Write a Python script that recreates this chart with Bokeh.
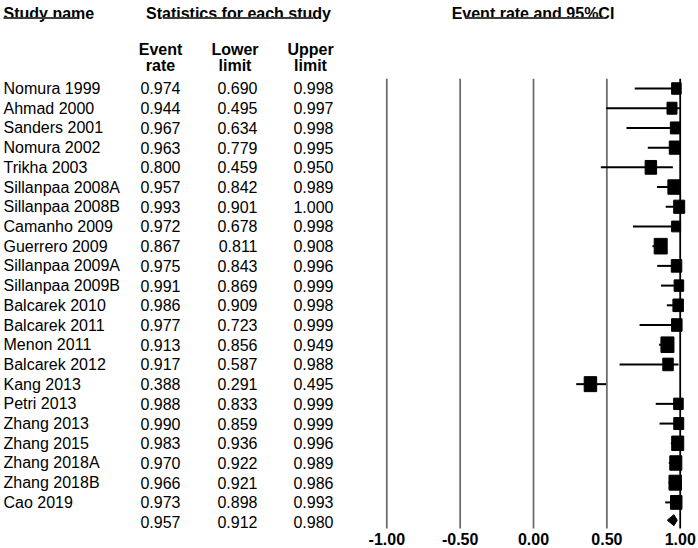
import math
from bokeh.plotting import figure
from bokeh.models import Range1d, ColumnDataSource
from bokeh.core.properties import value
from bokeh.embed import file_html
from bokeh.resources import INLINE

# ---------------- data ----------------
studies = ["Nomura 1999", "Ahmad 2000", "Sanders 2001", "Nomura 2002", "Trikha 2003",
           "Sillanpaa 2008A", "Sillanpaa 2008B", "Camanho 2009", "Guerrero 2009",
           "Sillanpaa 2009A", "Sillanpaa 2009B", "Balcarek 2010", "Balcarek 2011",
           "Menon 2011", "Balcarek 2012", "Kang 2013", "Petri 2013", "Zhang 2013",
           "Zhang 2015", "Zhang 2018A", "Zhang 2018B", "Cao 2019"]
event_rate = [0.974, 0.944, 0.967, 0.963, 0.800, 0.957, 0.993, 0.972, 0.867, 0.975, 0.991,
              0.986, 0.977, 0.913, 0.917, 0.388, 0.988, 0.990, 0.983, 0.970, 0.966, 0.973]
lower_limit = [0.690, 0.495, 0.634, 0.779, 0.459, 0.842, 0.901, 0.678, 0.811, 0.843, 0.869,
               0.909, 0.723, 0.856, 0.587, 0.291, 0.833, 0.859, 0.936, 0.922, 0.921, 0.898]
upper_limit = [0.998, 0.997, 0.998, 0.995, 0.950, 0.989, 1.000, 0.998, 0.908, 0.996, 0.999,
               0.998, 0.999, 0.949, 0.988, 0.495, 0.999, 0.999, 0.996, 0.989, 0.986, 0.993]
# relative weights (%)
weights = [3.4, 3.7, 3.7, 4.5, 4.9, 5.4, 4.5, 3.0, 6.3, 4.1, 3.4,
           4.1, 4.1, 6.3, 4.1, 5.8, 3.4, 3.7, 5.4, 5.4, 5.8, 4.9]
summary_rate = 0.957
summary_lower = 0.912
summary_upper = 0.980
tick_values = [-1.0, -0.5, 0.0, 0.5, 1.0]
tick_labels = ["-1.00", "-0.50", "0.00", "0.50", "1.00"]

# ---------------- figure ----------------
FONT = value("Liberation Sans")
W, H = 698, 548
p = figure(width=W, height=H, output_backend="svg", toolbar_location=None,
           x_range=Range1d(-3.6333, 1.1247), y_range=Range1d(23.3384, -4.4647),
           x_axis_location=None, y_axis_location=None, min_border=0,
           outline_line_color=None)
p.grid.visible = False
# pixel-layout ranges for the text table
p.extra_x_ranges = {"px": Range1d(0, W)}
p.extra_y_ranges = {"py": Range1d(H, 0)}

n = len(studies)
rows = list(range(n))

# reference lines
line_colors = ["#6e6e6e", "#6e6e6e", "#6e6e6e", "#6e6e6e", "#000000"]
p.segment(x0=tick_values, y0=[-0.5] * 5, x1=tick_values, y1=[22.32] * 5,
          line_color=line_colors, line_width=1.8)

src = ColumnDataSource(dict(
    y=rows, est=event_rate, lo=lower_limit, hi=upper_limit,
    size=[5.18 * math.sqrt(w) for w in weights],
    hsize=[1.2 * 5.18 * math.sqrt(w) for w in weights],
    name=studies,
    est_t=[f"{v:.3f}" for v in event_rate],
    lo_t=[f"{v:.3f}" for v in lower_limit],
    hi_t=[f"{v:.3f}" for v in upper_limit],
))
# confidence intervals and boxes
p.segment(x0="lo", y0="y", x1="hi", y1="y", source=src, line_color="black", line_width=2)
p.rect(x="est", y="y", width="size", height="hsize", width_units="screen",
       height_units="screen", source=src, fill_color="black", line_color="black")

# summary diamond
dh = 0.28
p.patch(x=[summary_lower, summary_rate, summary_upper, summary_rate],
        y=[n - 0.1, n - 0.1 - dh, n - 0.1, n - 0.1 + dh], fill_color="black", line_color="black")

# ---------------- table text ----------------
p.text(x=3, y="y", text="name", source=src, text_align="left",
       x_range_name="px", text_font=FONT, text_font_size="16px",
       text_color="black", text_baseline="middle")
for col, xr in (("est_t", 180), ("lo_t", 257), ("hi_t", 333)):
    p.text(x=xr, y="y", text=col, source=src, text_align="right",
           x_range_name="px", text_font=FONT, text_font_size="16px",
           text_color="black", text_baseline="middle")
# summary values
p.text(x=[180, 257, 333], y=[n] * 3,
       text=[f"{summary_rate:.3f}", f"{summary_lower:.3f}", f"{summary_upper:.3f}"],
       x_range_name="px", text_align="right", text_font=FONT, text_font_size="16px",
       text_color="black", text_baseline="middle")

# headers
bold = dict(text_font=FONT, text_font_size="16px", text_font_style="bold",
            text_color="black", text_baseline="alphabetic",
            x_range_name="px", y_range_name="py")
p.text(x=[3], y=[13], text=["Study name"], text_align="left", **bold)
p.text(x=[238], y=[13], text=["Statistics for each study"], text_align="center", **bold)
p.text(x=[532.5], y=[13], text=["Event rate and 95%CI"], text_align="center", **bold)
p.text(x=[160, 234.5, 310], y=[48.5] * 3, text=["Event", "Lower", "Upper"],
       text_align="center", **bold)
p.text(x=[160, 234.5, 310], y=[64.5] * 3, text=["rate", "limit", "limit"],
       text_align="center", **bold)
p.segment(x0=[3, 163, 465], y0=[17.5] * 3, x1=[77, 313, 605], y1=[17.5] * 3,
          line_color="#404040", line_width=2, x_range_name="px", y_range_name="py")

# tick labels
p.text(x=tick_values, y=[22.85] * 5, text=tick_labels, text_align="center",
       x_offset=[0, 0, 0, 0, 0], text_font=FONT, text_font_size="16px",
       text_font_style="bold", text_color="black", text_baseline="middle")

open("out.html", "w").write(file_html(p, INLINE))
